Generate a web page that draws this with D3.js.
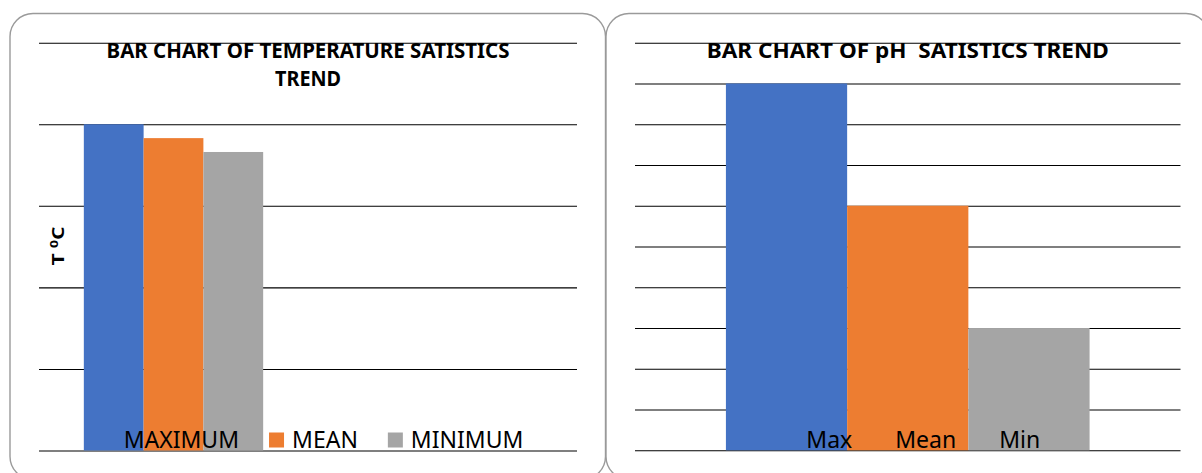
<!DOCTYPE html>
<html>
<head>
<meta charset="utf-8">
<script src="https://cdn.jsdelivr.net/npm/d3@7"></script>
<style>
  html, body { margin: 0; padding: 0; background: #fff; }
  svg { display: block; }
  text { font-family: "Noto Sans", "Open Sans", sans-serif; fill: #000; white-space: pre; }
</style>
</head>
<body>
<div id="chart"></div>
<script>
// Temperature statistics (two category slots, only the first holds data)
const tempCategories = ["Temperature", ""];
const tempSeries = ["MAXIMUM", "MEAN", "MINIMUM"];
const tempValues = [40, 38.3, 36.6];
const tempTicks = [0, 10, 20, 30, 40, 50];

// pH statistics
const phCategories = ["pH"];
const phSeries = ["Max", "Mean", "Min"];
const phValues = [9, 6, 3];
const phTicks = [0, 1, 2, 3, 4, 5, 6, 7, 8, 9, 10];

const seriesColors = ["#4472C4", "#ED7D31", "#A5A5A5"];

const W = 1202, H = 473;
const svg = d3.select("#chart").append("svg")
  .attr("width", W).attr("height", H);

// Rounded panel frames
const panels = [
  { x: 10, y: 13.5, w: 595.5, h: 466 },
  { x: 606, y: 13.5, w: 603, h: 466 }
];
svg.selectAll("rect.frame").data(panels).join("rect")
  .attr("class", "frame")
  .attr("x", d => d.x).attr("y", d => d.y)
  .attr("width", d => d.w).attr("height", d => d.h)
  .attr("rx", 23).attr("ry", 23)
  .attr("fill", "#fff")
  .attr("stroke", "#9a9a9a").attr("stroke-width", 1.4);

function drawChart(opt) {
  const g = svg.append("g");
  const y = d3.scaleLinear().domain([0, d3.max(opt.ticks)]).range([opt.bottom, opt.top]);
  const x0 = d3.scaleBand().domain(opt.categories).range([opt.left, opt.right])
    .paddingInner(1 / 3).paddingOuter(1 / 6);
  const x1 = d3.scaleBand().domain(opt.series).range([0, x0.bandwidth()]).padding(0);
  const color = d3.scaleOrdinal().domain(opt.series).range(seriesColors);

  // Horizontal gridlines drawn via an axis
  const grid = g.append("g")
    .attr("transform", `translate(${opt.left},0)`)
    .call(d3.axisRight(y).tickValues(opt.ticks).tickSize(opt.right - opt.left).tickFormat(""));
  grid.select(".domain").remove();
  grid.selectAll(".tick line").attr("stroke", "#000").attr("stroke-width", 1.1);

  // Legend layout
  const legendY = 447.5;
  const fontSize = 23;
  const marker = 15, markerGap = 8;
  const measure = g.append("text").attr("font-size", fontSize);
  const widths = opt.series.map(s => { measure.text(s); return measure.node().getComputedTextLength(); });
  measure.remove();
  const total = d3.sum(widths) + opt.series.length * (marker + markerGap) + (opt.series.length - 1) * opt.entryGap;
  let cx = (opt.left + opt.right) / 2 + 4 - total / 2;
  const legendItems = opt.series.map((s, i) => {
    const item = { name: s, mx: cx, tx: cx + marker + markerGap };
    cx += marker + markerGap + widths[i] + opt.entryGap;
    return item;
  });

  // Legend markers sit underneath the bars
  g.append("g").selectAll("rect").data(legendItems).join("rect")
    .attr("x", d => d.mx).attr("y", legendY - marker)
    .attr("width", marker).attr("height", marker)
    .attr("fill", d => color(d.name));

  // Bars
  const rows = opt.series.map((s, i) => ({ category: opt.categories[0], series: s, value: opt.values[i] }));
  g.append("g").selectAll("rect").data(rows).join("rect")
    .attr("x", d => x0(d.category) + x1(d.series))
    .attr("y", d => y(d.value))
    .attr("width", x1.bandwidth())
    .attr("height", d => y(0) - y(d.value))
    .attr("fill", d => color(d.series));

  // Legend labels on top
  g.append("g").selectAll("text").data(legendItems).join("text")
    .attr("x", d => d.tx).attr("y", legendY)
    .attr("font-size", fontSize)
    .text(d => d.name);

  // Title lines
  const cxTitle = (opt.left + opt.right) / 2;
  opt.title.forEach((line, i) => {
    g.append("text")
      .attr("x", cxTitle).attr("y", 58.3 + i * 27.7)
      .attr("text-anchor", "middle")
      .attr("font-size", 22).attr("font-weight", "bold")
      .attr("textLength", line.len).attr("lengthAdjust", "spacingAndGlyphs")
      .text(line.text);
  });
  return { g, y };
}

const left = drawChart({
  categories: tempCategories, series: tempSeries, values: tempValues, ticks: tempTicks,
  left: 39, right: 577, top: 42.7, bottom: 450.5, entryGap: 30,
  title: [
    { text: "BAR CHART OF TEMPERATURE SATISTICS", len: 403 },
    { text: "TREND", len: 66 }
  ]
});

drawChart({
  categories: phCategories, series: phSeries, values: phValues, ticks: phTicks,
  left: 635, right: 1180.5, top: 42.7, bottom: 450.3, entryGap: 20,
  title: [{ text: "BAR CHART OF pH  SATISTICS TREND", len: 402 }]
});

// Vertical axis title for the temperature chart
const yLabel = left.g.append("text")
  .attr("transform", "translate(64,246) rotate(-90)")
  .attr("text-anchor", "middle")
  .attr("font-size", 16.5).attr("font-weight", "bold")
  .attr("textLength", 39).attr("lengthAdjust", "spacingAndGlyphs");
yLabel.append("tspan").text("T ");
yLabel.append("tspan").attr("font-size", 11).attr("dy", -6).text("0");
yLabel.append("tspan").attr("dy", 6).text("C");
</script>
</body>
</html>
